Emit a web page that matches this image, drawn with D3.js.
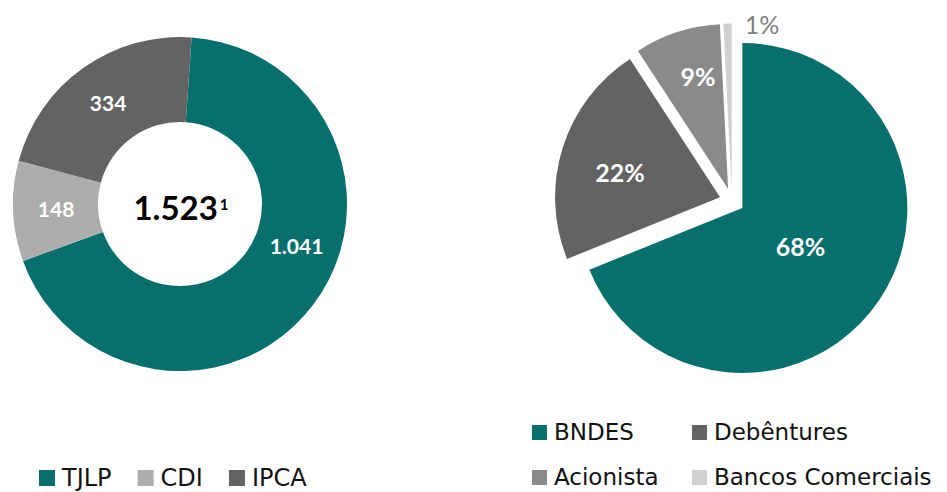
<!DOCTYPE html>
<html>
<head>
<meta charset="utf-8">
<script src="https://cdn.jsdelivr.net/npm/d3@7"></script>
<style>
  body { margin: 0; background: #fff; }
  svg { display: block; font-family: Lato, "Open Sans", sans-serif; }
  .legend text { font-family: "DejaVu Sans", sans-serif; }
</style>
</head>
<body>
<div id="chart"></div>
<script>
// left donut: debt by index (R$ mi)
const indexCategories = ['TJLP', 'CDI', 'IPCA'];
const indexValues = [1041, 148, 334];
const indexLabels = ['1.041', '148', '334'];
const indexTotalLabel = '1.523';
const indexColors = ['#07706c', '#adadad', '#636363'];

// right pie: debt by creditor (share %)
const creditorCategories = ['BNDES', 'Debêntures', 'Acionista', 'Bancos Comerciais'];
const creditorValues = [68.9, 21.9, 8.4, 0.8];
const creditorLabels = ['68%', '22%', '9%', '1%'];
const creditorColors = ['#07706c', '#636363', '#8a8a8a', '#d0d0d0'];

const width = 947, height = 492;
const deg = Math.PI / 180;

const svg = d3.select('#chart').append('svg')
    .attr('width', width)
    .attr('height', height);

svg.append('rect').attr('width', width).attr('height', height).attr('fill', '#fff');

// ---------- donut ----------
const donut = svg.append('g').attr('transform', 'translate(180,204)');

const donutPie = d3.pie()
    .sort(null)
    .startAngle(4 * deg)
    .endAngle(364 * deg)
    .value(d => d)(indexValues);

const donutArc = d3.arc().innerRadius(82).outerRadius(167);

donut.selectAll('path')
    .data(donutPie)
    .enter()
    .append('path')
    .attr('d', donutArc)
    .attr('fill', (d, i) => indexColors[i]);

// the TJLP label sits a bit above its middle angle
const donutLabelShift = [-17, 0, 0];
donut.selectAll('text.val')
    .data(donutPie)
    .enter()
    .append('text')
    .attr('class', 'val')
    .text((d, i) => indexLabels[i])
    .attr('transform', (d, i) => {
        const a = (d.startAngle + d.endAngle) / 2 + donutLabelShift[i] * deg;
        const r = 124;
        return `translate(${Math.sin(a) * r},${-Math.cos(a) * r})`;
    })
    .attr('text-anchor', 'middle')
    .attr('dy', '0.36em')
    .style('font-size', '21px')
    .style('font-weight', 700)
    .style('fill', '#fff');

const total = donut.append('text')
    .attr('x', 1)
    .attr('y', 16)
    .attr('text-anchor', 'middle')
    .style('font-weight', 700)
    .style('fill', '#000');
total.append('tspan').style('font-size', '33px').text(indexTotalLabel);
total.append('tspan').attr('dx', 2).attr('dy', -10).style('font-size', '15px').text('1');

// ---------- exploded pie ----------
const pieG = svg.append('g').attr('transform', 'translate(732,201)');
const explode = 12.5;

const creditorPie = d3.pie()
    .sort(null)
    .value(d => d)(creditorValues);

const pieArc = d3.arc().innerRadius(0).outerRadius(165);

function offset(d) {
    const a = (d.startAngle + d.endAngle) / 2;
    return [Math.sin(a) * explode, -Math.cos(a) * explode];
}

pieG.selectAll('path')
    .data(creditorPie)
    .enter()
    .append('path')
    .attr('d', pieArc)
    .attr('transform', d => `translate(${offset(d)})`)
    .attr('fill', (d, i) => creditorColors[i]);

// label distance from the slice tip and angle tweak (Excel "best fit")
const labelRadius = [70, 103, 116, 166];
const labelShift = [0, -4, 3, 12];
pieG.selectAll('text.val')
    .data(creditorPie)
    .enter()
    .append('text')
    .attr('class', 'val')
    .text((d, i) => creditorLabels[i])
    .attr('transform', (d, i) => {
        const a = (d.startAngle + d.endAngle) / 2 + labelShift[i] * deg;
        const [ox, oy] = offset(d);
        return `translate(${ox + Math.sin(a) * labelRadius[i]},${oy - Math.cos(a) * labelRadius[i]})`;
    })
    .attr('text-anchor', 'middle')
    .attr('dy', '0.36em')
    .style('font-size', '25px')
    .style('font-weight', (d, i) => i === 3 ? 400 : 700)
    .style('fill', (d, i) => i === 3 ? '#7f7f7f' : '#fff');

// ---------- legends ----------
const leftLegend = svg.append('g').attr('class', 'legend').attr('transform', 'translate(39,486)');
let lx = 0;
indexCategories.forEach((c, i) => {
    leftLegend.append('rect')
        .attr('x', lx).attr('y', -16)
        .attr('width', 16).attr('height', 16)
        .attr('fill', indexColors[i]);
    const t = leftLegend.append('text')
        .attr('x', lx + 23)
        .style('font-size', '24px')
        .style('fill', '#111')
        .text(c);
    lx += 23 + t.node().getComputedTextLength() + 26;
});

const rightLegend = svg.append('g').attr('class', 'legend').attr('transform', 'translate(532,440)');
const colX = [0, 160];
const rowY = [0, 45];
creditorCategories.forEach((c, i) => {
    const x = colX[i % 2], y = rowY[Math.floor(i / 2)];
    rightLegend.append('rect')
        .attr('x', x).attr('y', y - 15)
        .attr('width', 15).attr('height', 15)
        .attr('fill', creditorColors[i]);
    rightLegend.append('text')
        .attr('x', x + 22).attr('y', y)
        .style('font-size', '23px')
        .style('fill', '#111')
        .text(c);
});
</script>
</body>
</html>
